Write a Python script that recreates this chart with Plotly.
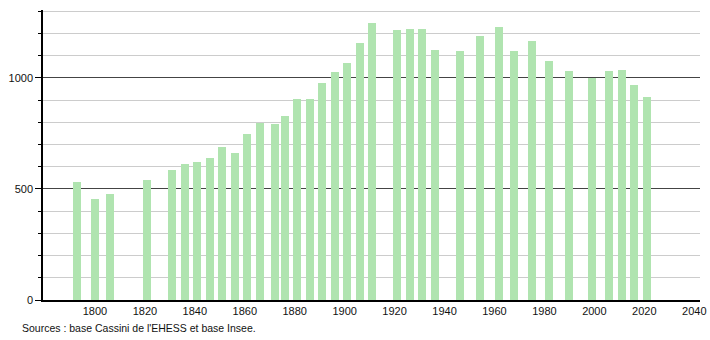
import plotly.graph_objects as go

years = [1793, 1800, 1806, 1821, 1831, 1836, 1841, 1846, 1851, 1856, 1861, 1866,
         1872, 1876, 1881, 1886, 1891, 1896, 1901, 1906, 1911, 1921, 1926, 1931,
         1936, 1946, 1954, 1962, 1968, 1975, 1982, 1990, 1999, 2006, 2011, 2016, 2021]
population = [531, 455, 479, 540, 585, 614, 621, 640, 689, 662, 748, 799,
              791, 830, 905, 905, 976, 1025, 1069, 1159, 1246, 1216, 1221, 1221,
              1126, 1122, 1191, 1228, 1122, 1167, 1077, 1032, 1001, 1032, 1036, 968, 916]

x_ticks = list(range(1800, 2041, 20))
y_major = [0, 500, 1000]
source_text = "Sources : base Cassini de l'EHESS et base Insee."

fig = go.Figure()
fig.add_trace(go.Bar(
    x=years, y=population, width=3.2,
    marker=dict(color="#b0e4b0", line=dict(width=0)),
    hoverinfo="x+y",
))

fig.update_layout(
    width=710, height=340,
    margin=dict(l=43, r=10, t=10, b=40, autoexpand=False),
    paper_bgcolor="white", plot_bgcolor="white",
    showlegend=False,
    font=dict(family="Liberation Sans, Arial, sans-serif", size=11, color="#111"),
    xaxis=dict(
        range=[1779.2, 2042.3],
        tickvals=x_ticks, ticktext=[str(v) for v in x_ticks],
        showgrid=False, zeroline=False, automargin=False,
        ticklabeloverflow="allow",
        showline=True, linecolor="black", linewidth=1.5,
        ticks="", tickfont=dict(size=11),
    ),
    yaxis=dict(
        range=[0, 1306], automargin=False,
        tickvals=y_major, ticktext=[str(v) for v in y_major],
        showgrid=True, gridcolor="#444", gridwidth=1,
        zeroline=False,
        showline=True, linecolor="black", linewidth=1.5,
        ticks="outside", ticklen=6, tickwidth=1, tickcolor="black",
        minor=dict(dtick=100, showgrid=True, gridcolor="#cccccc", gridwidth=1,
                   ticks="outside", ticklen=3, tickcolor="black"),
        tickfont=dict(size=11),
    ),
    bargap=0,
)

fig.add_annotation(
    text=source_text, xref="paper", yref="paper",
    x=-23/657, y=-0.095, xanchor="left", yanchor="middle",
    showarrow=False, font=dict(size=10.5, color="#111"),
)

fig.write_html("out.html")
